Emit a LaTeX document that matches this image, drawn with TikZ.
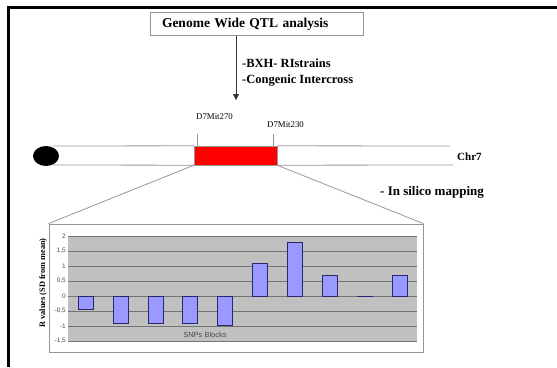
\documentclass[tikz,border=0pt]{standalone}
\usepackage{fontspec}
\setmainfont{Liberation Serif}
\setsansfont{Liberation Sans}
\usetikzlibrary{positioning,arrows.meta,shapes.geometric}
\definecolor{barblue}{RGB}{153,153,255}
\definecolor{bardark}{RGB}{40,40,110}
\definecolor{plotgray}{RGB}{192,192,192}
\definecolor{linegray}{RGB}{150,150,150}

\begin{document}
\begin{tikzpicture}[x=1pt,y=-1pt,
    bold/.style={font=\bfseries\fontsize{12.5}{14}\selectfont, inner sep=0pt},
    marker/.style={font=\fontsize{8.8}{10}\selectfont, inner sep=0pt},
    ticklbl/.style={font=\sffamily\fontsize{6.5}{7}\selectfont, text=black!70, anchor=east, inner sep=0pt},
    bar/.style={fill=barblue, draw=bardark, line width=0.6pt}]
    \useasboundingbox (0,0) rectangle (557,367);
    % frame
    \draw[line width=3pt] (8.5,367) -- (8.5,7.5) -- (557,7.5);
    % title box and arrow
    \node[draw=linegray, text width=189pt, inner xsep=12pt, align=left, minimum height=23pt, font=\bfseries\fontsize{13.5}{15}\selectfont] (gwas) at (256.5,24) {Genome Wide QTL analysis};
    \coordinate (tip) at (236,100);
    \draw[-{Triangle[length=6pt,width=6pt]}, black!80] (gwas.south -| tip) -- (tip);
    \node[bold, anchor=west] (bxh) at (242,63) {-BXH- RIstrains};
    \node[bold, below=7pt of bxh.south west, anchor=north west] (cong) {-Congenic Intercross};
    % chromosome
    \node[ellipse, fill=black, minimum width=26pt, minimum height=20pt, inner sep=0pt] (cent) at (46,156) {};
    \node[draw=linegray, fill=red, minimum width=83pt, minimum height=19pt, inner sep=0pt] (qtl) at (235.5,155.5) {};
    \draw[linegray, line width=0.8pt] (53,146) -- (qtl.north west) (qtl.north east) -- (450,146);
    \draw[linegray, line width=0.8pt] (53,165) -- (qtl.south west) (qtl.south east) -- (453,165);
    \node[bold, font=\bfseries\fontsize{11}{12}\selectfont, anchor=west] (chr) at (457,157) {Chr7};
    \node[marker, anchor=west] (m270) at (196,117) {D7Mit270};
    \node[marker, anchor=west] (m230) at (267,125) {D7Mit230};
    \draw[linegray] (197,134) -- (197,146);
    \draw[linegray] (273,134) -- (273,146);
    \node[bold, font=\bfseries\fontsize{13}{14}\selectfont, anchor=west] (silico) at (380,192) {- In silico mapping};
    % chart
    \node[draw=linegray, line width=0.8pt, minimum width=374pt, minimum height=128pt, inner sep=0pt] (chart) at (236,288) {};
    \draw[linegray, line width=0.8pt] (qtl.south west) -- (chart.north west);
    \draw[linegray, line width=0.8pt] (qtl.south east) -- (chart.north east);
    \fill[plotgray] (68,236) rectangle (417,341);
    \foreach \v [count=\k from 0] in {2,{1,5},1,{0,5},0,{-0,5},-1,{-1,5}} {
        \draw[black!55, line width=0.8pt] (68,236+15*\k) -- (417,236+15*\k);
        \node[ticklbl] at (66,236+15*\k) {\v};
    }
    \foreach \v [count=\i from 0] in {-0.45,-0.9,-0.9,-0.9,-0.97,1.1,1.8,0.7,-0.02,0.7} {
        \draw[bar] (78+34.9*\i,296) rectangle (93+34.9*\i,296-30*\v);
    }
    \node[font=\sffamily\fontsize{7.5}{8}\selectfont, text=black!70, inner sep=0pt] (snps) at (205,335) {SNPs Blocks};
    \node[rotate=90, font=\bfseries\fontsize{8.3}{9}\selectfont, inner sep=0pt] (ytitle) at (43,283) {R values (SD from mean)};
\end{tikzpicture}
\end{document}
